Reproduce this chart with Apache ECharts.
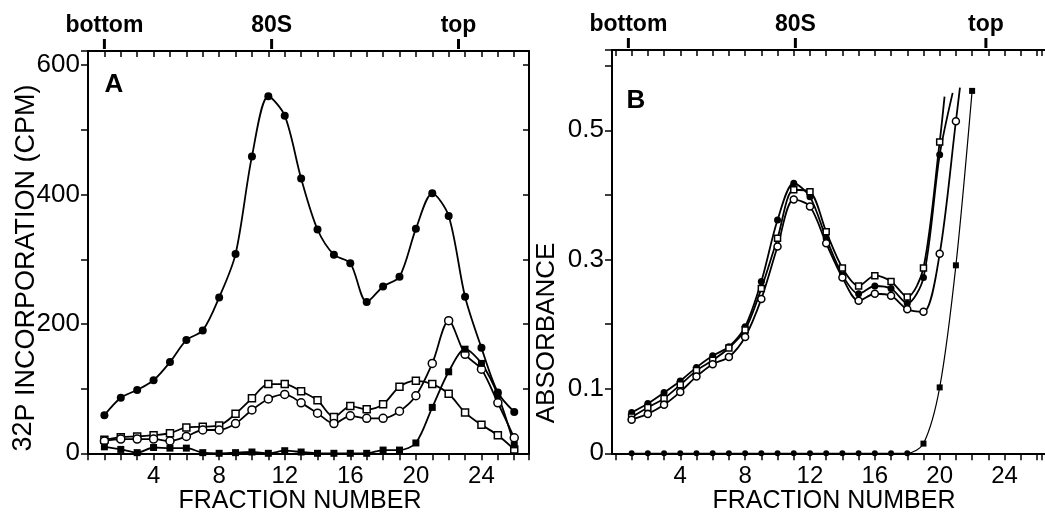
<!DOCTYPE html>
<html><head><meta charset="utf-8">
<script src="https://cdn.jsdelivr.net/npm/echarts@6/dist/echarts.min.js"></script>
<style>html,body{margin:0;padding:0;background:#fff}#c{width:1045px;height:515px}</style>
</head><body><div id="c"></div>
<script>
// ---------- data ----------
const fractions = [1,2,3,4,5,6,7,8,9,10,11,12,13,14,15,16,17,18,19,20,21,22,23,24,25,26];
const fractionTickLabels = [4, 8, 12, 16, 20, 24];
const topNames = ['bottom', '80S', 'top'];
const topPosA = [1, 11.2, 22.6];
const topPosB = [0.8, 11.1, 22.85];
const yLabelsA = [0, 200, 400, 600];
const yLabelsB = [0, 0.1, 0.3, 0.5];

// Panel A: 32P incorporation (CPM)
const A_filledCircle = [59, 86, 98, 113, 141, 175, 190, 241, 308, 459, 552, 522, 425, 346, 307, 294, 234, 258, 273, 347, 402, 367, 242, 163, 94, 64];
const A_openSquare   = [21, 25, 26, 28, 31, 40, 41, 43, 61, 85, 107, 107, 96, 82, 56, 73, 68, 76, 103, 112, 107, 92, 63, 44, 28, 6];
const A_openCircle   = [19, 22, 22, 22, 19, 26, 36, 36, 46, 67, 84, 91, 78, 62, 46, 58, 54, 54, 65, 89, 139, 205, 153, 130, 78, 24];
const A_filledSquare = [10, 6, 1, 9, 8, 8, 1, 0, 1, 2, 0, 4, 2, 0, 0, 0, 0, 5, 5, 16, 71, 126, 161, 139, 90, 13];

// Panel B: absorbance
const B_filledCircle = [0.063, 0.077, 0.094, 0.112, 0.133, 0.151, 0.165, 0.196, 0.266, 0.361, 0.418, 0.397, 0.333, 0.276, 0.247, 0.259, 0.255, 0.232, 0.272, 0.462];
const B_openSquare   = [0.056, 0.071, 0.085, 0.106, 0.128, 0.144, 0.163, 0.191, 0.255, 0.333, 0.408, 0.405, 0.343, 0.287, 0.259, 0.275, 0.266, 0.242, 0.287, 0.482];
const B_openCircle   = [0.052, 0.061, 0.075, 0.095, 0.119, 0.138, 0.149, 0.180, 0.239, 0.320, 0.393, 0.382, 0.325, 0.272, 0.236, 0.247, 0.244, 0.223, 0.219, 0.309, 0.514];
const B_filledSquare = [0, 0, 0, 0, 0, 0, 0, 0, 0, 0, 0, 0, 0, 0, 0, 0, 0, 0, 0.015, 0.102, 0.291, 0.561];
// curve ends drawn past the last measured point (no marker)
const B_filledCircleTail = [20.8, 0.558];
const B_openSquareTail   = [20.3, 0.552];
const B_openCircleTail   = [21.25, 0.566];

// ---------- chart ----------
const FONT = '"Liberation Sans", Arial, Helvetica, sans-serif';
const chart = echarts.init(document.getElementById('c'), null, {renderer: 'canvas'});

function pairs(vals) { return vals.map((v, i) => [fractions[i], v]); }
function withTail(vals, tail) { return pairs(vals).concat([{value: tail, symbol: 'none'}]); }
function inList(list, v, tol) { return list.some(p => Math.abs(p - v) < tol); }

const BLACK = '#000';
const LINE = {color: BLACK, width: 1.8};
const styles = {
  filledCircle: {symbol: 'circle', symbolSize: 8, itemStyle: {color: BLACK}},
  openCircle:   {symbol: 'circle', symbolSize: 8, itemStyle: {color: '#fff', borderColor: BLACK, borderWidth: 1.5}},
  openSquare:   {symbol: 'rect', symbolSize: 7, itemStyle: {color: '#fff', borderColor: BLACK, borderWidth: 1.5}},
  filledSquare: {symbol: 'rect', symbolSize: 7, itemStyle: {color: BLACK}}
};
function ser(name, data, st, xi, yi, extra) {
  return Object.assign({
    name, type: 'line', data, xAxisIndex: xi, yAxisIndex: yi, smooth: 0.3,
    lineStyle: LINE, showSymbol: true, animation: false, z: 3
  }, st, extra || {});
}
const axisLineOn = {show: true, onZero: false, lineStyle: {color: BLACK, width: 2}};

// bottom x axis: tick at each fraction, labels every 4
function bottomX(grid, min, max) {
  return {type: 'value', gridIndex: grid, position: 'bottom', min, max, interval: 1,
    axisLine: axisLineOn,
    axisTick: {show: true, length: 7, inside: false, lineStyle: {color: BLACK, width: 1.5}},
    axisLabel: {color: BLACK, fontSize: 24, fontFamily: FONT, margin: 11,
      formatter: v => (inList(fractionTickLabels, v, 1e-6) ? String(v) : '')},
    splitLine: {show: false}};
}
// top x axis: inward ticks at each fraction + gradient position labels with their tick mark
function topX(grid, min, max, pos) {
  return {type: 'value', gridIndex: grid, position: 'top', min, max, interval: 1,
    axisLine: axisLineOn,
    axisTick: {show: true, length: 6, inside: true, lineStyle: {color: BLACK, width: 1.5}},
    axisLabel: {customValues: pos, margin: 2,
      formatter: v => { const i = pos.findIndex(p => Math.abs(p - v) < 1e-6); return i >= 0 ? '{n|' + topNames[i] + '}\n{t| }' : ''; },
      rich: {
        n: {fontSize: 23, fontWeight: 'bold', fontFamily: FONT, color: BLACK, lineHeight: 26, align: 'center'},
        t: {width: 3, height: 10, lineHeight: 10, backgroundColor: BLACK, fontSize: 1, align: 'center'}
      }},
    splitLine: {show: false}};
}
function lineOnlyX(grid, position) {
  return {type: 'value', gridIndex: grid, position, min: 0, max: 1,
    axisLine: axisLineOn, axisTick: {show: false}, axisLabel: {show: false}, splitLine: {show: false}};
}
function leftY(grid, max, interval, labels, fmt) {
  return {type: 'value', gridIndex: grid, position: 'left', min: 0, max, interval,
    axisLine: axisLineOn,
    axisTick: {show: true, length: 7, inside: false, lineStyle: {color: BLACK, width: 1.5}},
    axisLabel: {color: BLACK, fontSize: 26, fontFamily: FONT, margin: 8,
      formatter: v => (inList(labels, v, interval * 1e-3) ? fmt(v) : '')},
    splitLine: {show: false}};
}
function rightY(grid, max, interval) {
  return {type: 'value', gridIndex: grid, position: 'right', min: 0, max, interval,
    axisLine: axisLineOn,
    axisTick: {show: true, length: 6, inside: true, lineStyle: {color: BLACK, width: 1.5}},
    axisLabel: {show: false}, splitLine: {show: false}};
}
function hiddenY(grid, max) {
  return {type: 'value', gridIndex: grid, min: 0, max, show: false, splitLine: {show: false}};
}

// panel B is cut by the right edge of the picture
const xMaxA = 26.9, xMaxB = 26.31;
const yMaxA = 622, yMaxB = 0.6243;
const option = {
  backgroundColor: '#fff',
  animation: false,
  grid: [
    {left: 88, top: 51, width: 441, height: 402.3, containLabel: false},      // A
    {left: 615.4, top: 50, width: 429.6, height: 403.3, containLabel: false}, // B data
    {left: 612, top: 50, width: 433, height: 403.3, containLabel: false}      // B frame
  ],
  xAxis: [
    bottomX(0, 0, xMaxA), topX(0, 0, xMaxA, topPosA),
    bottomX(1, 0, xMaxB), topX(1, 0, xMaxB, topPosB),
    lineOnlyX(2, 'bottom'), lineOnlyX(2, 'top')
  ],
  yAxis: [
    leftY(0, yMaxA, 100, yLabelsA, v => String(v)),
    rightY(0, yMaxA, 100),
    hiddenY(1, yMaxB),
    leftY(2, yMaxB, 0.1, yLabelsB, v => (Math.abs(v) < 1e-9 ? '0' : v.toFixed(1)))
  ],
  series: [
    ser('A filled circles', pairs(A_filledCircle), styles.filledCircle, 0, 0),
    ser('A open squares', pairs(A_openSquare), styles.openSquare, 0, 0),
    ser('A open circles', pairs(A_openCircle), styles.openCircle, 0, 0),
    ser('A filled squares', pairs(A_filledSquare), styles.filledSquare, 0, 0),
    ser('B filled circles', withTail(B_filledCircle, B_filledCircleTail), Object.assign({}, styles.filledCircle, {symbolSize: 7}), 2, 2),
    ser('B open squares', withTail(B_openSquare, B_openSquareTail), Object.assign({}, styles.openSquare, {symbolSize: 6}), 2, 2),
    ser('B open circles', withTail(B_openCircle, B_openCircleTail), Object.assign({}, styles.openCircle, {symbolSize: 7}), 2, 2),
    ser('B filled squares', B_filledSquare.map((v, i) => ({value: [fractions[i], v], symbol: v === 0 ? 'circle' : 'rect'})),
        Object.assign({}, styles.filledSquare, {symbolSize: 6}), 2, 2, {lineStyle: {color: BLACK, width: 1.2}})
  ],
  graphic: [
    {type: 'text', x: 114, y: 85, z: 10, style: {text: 'A', font: 'bold 26px ' + FONT, fill: BLACK, align: 'center', verticalAlign: 'middle'}},
    {type: 'text', x: 636, y: 101, z: 10, style: {text: 'B', font: 'bold 26px ' + FONT, fill: BLACK, align: 'center', verticalAlign: 'middle'}},
    {type: 'text', x: 300, y: 501, style: {text: 'FRACTION NUMBER', font: '25px ' + FONT, fill: BLACK, align: 'center', verticalAlign: 'middle'}},
    {type: 'text', x: 834, y: 501, style: {text: 'FRACTION NUMBER', font: '25px ' + FONT, fill: BLACK, align: 'center', verticalAlign: 'middle'}},
    {type: 'text', x: 27, y: 268, rotation: Math.PI / 2, style: {
      text: '{s|32}P INCORPORATION (CPM)', font: '27px ' + FONT, fill: BLACK, align: 'center', verticalAlign: 'middle',
      rich: {s: {font: '27px ' + FONT, fill: BLACK, padding: [0, 0, 6, 0]}}}},
    {type: 'text', x: 547, y: 333, rotation: Math.PI / 2, style: {text: 'ABSORBANCE', font: '26px ' + FONT, fill: BLACK, align: 'center', verticalAlign: 'middle'}}
  ]
};
chart.setOption(option);
</script>
</body></html>
